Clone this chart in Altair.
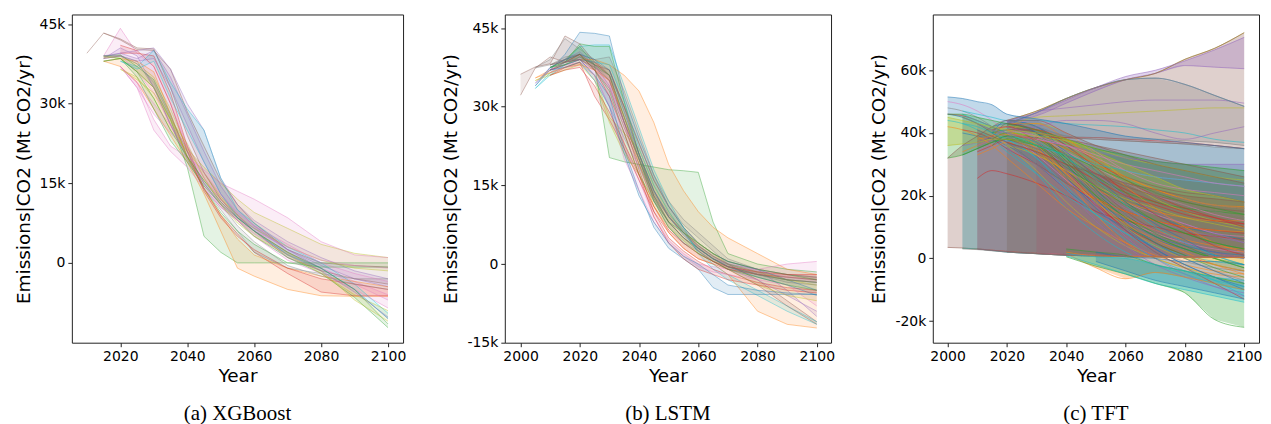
import altair as alt
import pandas as pd

TAB10 = ["#1f77b4", "#ff7f0e", "#2ca02c", "#d62728", "#9467bd",
         "#8c564b", "#e377c2", "#7f7f7f", "#bcbd22", "#17becf"]

# ---------------- Panel (a) XGBoost : values in k Mt CO2/yr ----------------
A_YEARS = [2010, 2015, 2020, 2025, 2030, 2035, 2040, 2045, 2050, 2055, 2060, 2070, 2080, 2090, 2100]
A_EDGE1 = [
    [39.5, 43.3, 42.0, 40.2, 40.0, 36.5, 28.5, 22.0, 15.5, 11.0, 7.5, 2.5, 0.0, -0.5, -0.8],
    [None, 39.0, 44.2, 39.5, 37.0, 30.0, 22.0, 16.0, 12.0, 9.0, 6.0, 2.0, -1.0, -3.5, -6.0],
    [None, 38.8, 39.5, 40.0, 40.5, 36.5, 30.0, 25.0, 16.0, 11.0, 8.0, 4.0, 1.0, -1.5, -3.0],
    [None, 39.0, 38.5, 36.0, 33.0, 27.0, 18.0, 5.0, 2.0, 0.0, 0.0, 0.0, 0.0, 0.0, 0.0],
    [None, 38.0, 37.0, 34.0, 29.0, 24.0, 19.0, 13.0, 6.0, -1.0, -2.5, -5.0, -6.2, -6.3, -6.3],
    [None, None, 39.5, 39.5, 39.0, 32.0, 22.0, 14.0, 9.0, 5.5, 2.0, -2.0, -5.5, -6.2, -6.2],
    [None, 38.8, 39.0, 37.5, 35.0, 29.0, 21.5, 18.0, 15.0, 12.0, 9.5, 6.5, 3.5, 1.8, 1.0],
    [None, None, 37.0, 34.0, 27.0, 22.0, 20.0, 17.5, 15.0, 13.5, 12.0, 8.5, 4.0, 1.5, 1.0],
    [None, 39.0, 39.5, 38.5, 40.0, 35.0, 28.0, 21.0, 14.5, 10.0, 7.0, 2.5, -1.0, -5.0, -10.5],
    [None, None, 38.0, 37.0, 40.0, 34.0, 29.0, 25.0, 16.0, 10.0, 7.5, 3.0, 0.0, -4.0, -9.5],
    [None, 38.5, 39.0, 38.0, 33.0, 26.0, 19.5, 14.0, 10.0, 6.0, 2.0, -1.0, -2.0, -3.0, -3.0],
    [None, 38.0, 38.5, 35.0, 29.0, 23.0, 19.0, 14.5, 11.0, 8.0, 5.0, 1.0, -2.0, -6.5, -12.2],
    [None, None, 37.0, 33.0, 28.0, 24.5, 21.0, 16.0, 11.5, 8.0, 5.5, 1.5, -1.0, -4.0, -7.0],
    [None, None, 36.5, 35.0, 31.0, 25.0, 21.0, 17.0, 12.5, 9.0, 6.0, 2.0, -1.5, -7.0, -11.0],
]
A_EDGE2 = [
    [None, 43.3, 42.2, 40.5, 40.3, 33.0, 24.0, 17.0, 12.0, 8.5, 6.0, 1.0, -1.5, -3.0, -4.0],
    [None, 38.5, 39.0, 36.0, 32.0, 26.0, 20.0, 14.0, 10.5, 8.0, 5.0, 0.5, -2.0, -5.0, -8.5],
    [None, 38.5, 40.5, 39.0, 33.0, 26.0, 20.0, 15.0, 11.0, 8.5, 6.5, 2.5, -0.5, -3.0, -4.5],
    [None, 39.0, 39.2, 37.0, 34.5, 28.0, 20.0, 14.0, 9.5, 6.0, 3.5, 0.0, -0.8, -0.8, -0.8],
    [None, 38.0, 38.5, 38.0, 36.0, 28.0, 20.0, 14.0, 9.0, 4.5, 1.5, -1.0, -2.5, -3.5, -4.5],
    [None, None, 41.0, 40.0, 37.0, 30.0, 21.0, 13.5, 8.5, 5.0, 2.5, -1.0, -3.0, -4.0, -5.0],
    [None, 38.8, 38.5, 36.0, 33.0, 27.0, 20.0, 15.5, 12.0, 9.0, 6.5, 3.0, 0.5, -1.0, -1.5],
    [None, None, 37.0, 33.0, 25.0, 21.0, 18.0, 14.0, 10.5, 8.0, 6.0, 3.0, 0.5, -0.5, -1.0],
    [None, 39.0, 39.0, 38.0, 38.5, 33.0, 26.0, 19.0, 13.0, 9.0, 6.0, 1.5, -1.5, -5.5, -10.2],
    [None, None, 38.0, 36.5, 38.0, 31.0, 25.0, 19.0, 13.0, 8.5, 6.0, 1.5, -1.0, -5.0, -10.5],
    [None, 38.5, 39.0, 37.5, 34.0, 27.5, 21.0, 15.0, 11.0, 7.0, 4.0, -0.5, -2.5, -4.0, -5.0],
    [None, 38.0, 38.5, 36.0, 31.0, 25.0, 20.0, 15.5, 11.5, 8.5, 6.0, 2.0, -1.0, -5.0, -11.5],
    [None, None, 37.0, 34.0, 30.0, 26.0, 22.0, 17.0, 13.0, 9.5, 7.0, 3.5, 0.0, -2.0, -3.5],
    [None, None, 36.5, 34.5, 32.0, 27.0, 22.5, 16.0, 11.0, 7.5, 5.0, 1.5, -2.0, -6.0, -9.0],
]
A_COLORS = [5, 6, 4, 2, 1, 3, 8, 6, 4, 9, 7, 2, 6, 8]

# ---------------- Panel (b) LSTM ----------------
B_YEARS = [2000, 2005, 2010, 2015, 2020, 2025, 2030, 2035, 2040, 2045, 2050, 2055, 2060, 2065, 2070, 2080, 2090, 2100]
B_EDGE1 = [
    [36.2, 37.6, 38.2, 43.5, 42.0, 38.5, 37.0, 30.0, 23.0, 16.0, 11.0, 7.0, 4.0, 2.0, 0.5, -1.0, -2.0, -2.5],
    [None, 34.0, 37.0, 40.0, 44.2, 44.0, 43.5, 32.0, 24.0, 17.0, 11.0, 7.0, 4.0, 2.0, 0.5, -1.0, -3.0, -5.0],
    [None, 33.5, 36.5, 38.5, 41.5, 41.8, 41.8, 34.0, 26.0, 18.0, 12.0, 7.0, 2.0, -1.0, -3.0, -6.0, -9.0, -11.5],
    [None, None, 37.5, 39.0, 41.5, 38.0, 20.3, 19.5, 19.0, 18.5, 18.0, 17.8, 17.5, 8.0, 2.0, 0.0, -1.0, -1.5],
    [None, 35.5, 37.0, 38.0, 39.0, 39.0, 38.0, 36.0, 33.0, 27.0, 19.0, 14.0, 10.0, 7.0, 5.0, 2.0, -1.0, -2.0],
    [None, None, 37.0, 38.0, 39.0, 38.5, 36.0, 27.0, 18.0, 10.0, 5.0, 2.5, 0.5, -1.0, -2.0, -3.5, -4.5, -5.0],
    [None, 34.5, 37.5, 39.0, 40.5, 38.0, 34.0, 27.0, 20.0, 13.0, 8.0, 5.0, 3.0, 1.0, 0.0, -1.0, -5.0, -10.0],
    [None, None, 36.5, 38.0, 38.5, 37.0, 35.0, 23.0, 16.0, 9.0, 4.5, 2.0, 0.0, -0.5, -1.0, -1.0, 0.0, 0.5],
    [None, None, 38.0, 39.5, 40.0, 39.0, 39.5, 33.0, 25.0, 17.0, 12.0, 8.5, 6.0, 3.5, 1.0, -1.0, -2.0, -2.5],
    [None, 35.0, 36.5, 37.5, 38.5, 36.0, 28.0, 25.0, 22.0, 15.0, 10.0, 6.0, 4.0, 2.0, 0.0, -1.5, -3.0, -4.0],
    [None, None, 37.0, 38.0, 39.0, 36.0, 32.0, 22.0, 14.0, 7.0, 3.0, 1.0, -1.0, -4.5, -5.8, -5.8, -5.8, -5.8],
    [None, None, 37.5, 38.5, 42.0, 41.5, 41.5, 31.0, 21.0, 13.0, 8.0, 5.0, 3.0, 1.0, -0.5, -2.0, -3.0, -3.5],
    [None, None, 36.0, 37.5, 38.5, 32.0, 27.5, 22.0, 16.0, 10.0, 6.0, 3.0, 1.0, 0.0, -1.0, -2.0, -2.5, -3.0],
    [None, None, 38.0, 39.0, 40.0, 38.0, 37.0, 30.0, 21.0, 14.0, 9.0, 6.0, 3.5, 1.5, 0.0, -3.0, -7.0, -11.0],
    [None, 37.5, 39.0, 43.0, 41.0, 39.0, 36.0, 28.0, 21.0, 14.0, 9.5, 6.5, 3.5, 1.5, 0.0, -1.5, -2.5, -3.0],
]
B_EDGE2 = [
    [32.2, 37.4, 39.5, 38.5, 39.0, 37.5, 35.0, 27.0, 20.0, 13.0, 9.0, 6.0, 3.0, 1.0, -0.5, -2.0, -3.0, -3.5],
    [None, 34.0, 37.5, 39.0, 40.0, 39.0, 37.0, 29.0, 21.0, 14.0, 9.0, 5.5, 3.0, 1.0, -0.5, -2.5, -4.0, -6.0],
    [None, 33.5, 36.0, 38.0, 39.0, 38.5, 38.0, 31.0, 22.0, 15.0, 10.0, 6.0, 2.5, 0.0, -2.0, -5.0, -8.0, -11.0],
    [None, None, 37.5, 38.5, 40.0, 37.0, 33.0, 25.0, 17.0, 12.0, 8.0, 6.0, 4.0, 2.0, 0.5, -1.0, -2.0, -3.0],
    [None, 35.5, 36.5, 37.5, 38.0, 37.0, 35.0, 28.0, 19.0, 11.0, 6.0, 3.0, 1.0, 0.0, -2.0, -9.0, -11.5, -12.2],
    [None, None, 37.0, 38.5, 40.0, 37.0, 32.0, 25.0, 17.0, 9.0, 4.0, 1.0, -1.0, -2.0, -3.0, -4.0, -5.0, -5.5],
    [None, 34.5, 37.0, 38.5, 39.0, 36.0, 30.0, 24.0, 18.5, 12.0, 7.0, 4.0, 2.5, 0.5, -1.0, -3.0, -6.0, -9.0],
    [None, None, 36.5, 37.5, 38.0, 36.0, 30.0, 20.0, 14.0, 8.0, 4.0, 1.5, -0.5, -1.5, -2.0, -3.0, -4.0, -8.0],
    [None, None, 38.0, 39.0, 39.0, 37.5, 36.0, 30.0, 23.0, 16.0, 11.0, 7.5, 5.0, 2.5, 0.0, -2.0, -3.5, -4.0],
    [None, 35.0, 36.0, 37.0, 38.0, 35.0, 27.0, 21.0, 17.0, 11.0, 7.0, 4.5, 2.0, 0.5, -1.0, -4.0, -6.0, -7.0],
    [None, None, 37.0, 37.5, 38.5, 35.0, 30.0, 21.0, 13.0, 8.0, 4.0, 1.5, 0.0, -2.0, -4.0, -5.0, -5.5, -5.8],
    [None, None, 37.5, 38.0, 39.5, 38.0, 36.0, 28.0, 20.0, 12.0, 7.0, 4.0, 2.0, 0.5, -1.0, -2.5, -4.0, -5.0],
    [None, None, 36.0, 37.0, 37.5, 34.0, 29.0, 23.0, 17.0, 11.0, 6.5, 4.0, 2.0, 0.5, -0.5, -1.5, -2.0, -2.0],
    [None, None, 38.0, 38.5, 39.0, 37.0, 33.5, 26.0, 19.0, 12.5, 8.0, 5.0, 2.5, 0.5, -1.0, -4.0, -8.0, -11.5],
    [None, 37.4, 38.0, 38.5, 39.5, 38.0, 35.0, 27.0, 20.0, 13.5, 9.0, 6.0, 3.0, 1.0, -0.5, -2.0, -3.0, -3.5],
]
B_COLORS = [5, 0, 9, 2, 1, 3, 4, 6, 7, 8, 0, 2, 3, 5, 7]

# ---------------- Panel (c) TFT ----------------
C_YEARS = [2000, 2005, 2010, 2015, 2020, 2030, 2040, 2050, 2060, 2070, 2080, 2090, 2100]
C_BAND_LO = [
    [3.5, 3.3, 3.0, 2.5, 2.0, 1.5, 1.0, 0.8, 0.6, 0.5, 0.4, 0.3, 0.3],
    [None, 3.2, 3.0, 2.5, 2.0, 1.5, 1.0, 0.8, 0.6, 0.5, 0.4, 0.3, 0.3],
    [None, None, 3.0, 2.6, 2.2, 1.6, 1.2, 1.0, 0.8, 0.6, 0.5, 0.4, 0.3],
    [None, None, None, None, 2.0, 1.5, 1.0, 0.8, 0.6, 0.5, 0.4, 0.3, 0.3],
    [None, None, None, None, None, 1.5, 1.0, 0.8, 0.6, 0.5, 0.4, 0.3, 0.3],
    [None, None, None, None, None, 1.6, 1.2, 1.0, 0.8, 0.6, 0.5, 0.4, 0.3],
    [None, None, None, None, 42.0, 40.0, 38.5, 38.0, 37.5, 37.0, 36.5, 36.0, 35.0],
    [None, None, None, None, 41.0, 40.0, 39.0, 38.5, 38.0, 38.0, 37.5, 37.0, 36.0],
    [None, None, None, None, 43.5, 45.5, 49.5, 53.5, 57.0, 59.0, 61.5, 61.0, 60.5],
    [None, None, None, None, None, None, 1.5, -3.0, -6.5, -4.5, -6.0, -8.0, -10.0],
    [None, None, None, None, None, None, 0.5, -2.5, -5.0, -8.0, -11.0, -19.5, -22.0],
    [None, None, None, None, None, None, 0.8, -2.0, -5.0, -8.0, -10.0, -12.0, -14.0],
    [46.0, 45.0, 43.0, 40.0, 37.0, 30.0, 24.0, 18.0, 12.0, 7.0, 4.0, 2.0, 1.0],
    [32.0, 33.0, 35.0, 37.0, 38.0, 36.0, 30.0, 24.0, 18.0, 12.0, 8.0, 5.0, 3.0],
    [36.0, 36.5, 37.0, 38.0, 38.0, 34.0, 26.0, 18.0, 10.0, 4.0, 0.0, -2.0, -4.0],
    [None, None, None, None, 2.0, 1.5, 1.0, 0.8, 0.6, 0.5, 0.4, 0.3, 0.3],
    [None, None, None, None, None, None, None, -1.0, -4.0, -7.0, -9.0, -11.0, -13.0],
    [None, 3.0, 2.8, 2.4, 2.0, 1.5, 1.0, 0.8, 0.6, 0.5, 0.4, 0.3, 0.3],
    [None, None, 3.0, 2.6, 2.2, 1.6, 1.2, 1.0, 0.8, 0.6, 0.5, 0.4, 0.3],
]
C_BAND_HI = [
    [32.0, 36.0, 39.0, 42.0, 44.0, 44.0, 40.0, 36.0, 33.0, 30.0, 28.0, 26.0, 24.0],
    [None, 46.0, 44.0, 42.0, 40.0, 36.0, 33.0, 30.0, 28.0, 26.0, 25.0, 24.0, 23.0],
    [None, None, 43.0, 41.0, 40.0, 38.0, 36.0, 34.0, 32.0, 31.0, 30.0, 30.0, 30.0],
    [None, None, None, None, 44.0, 42.0, 39.0, 38.0, 37.5, 37.0, 36.5, 35.5, 35.0],
    [None, None, None, None, None, 40.0, 38.0, 36.0, 34.0, 32.0, 30.0, 28.0, 26.0],
    [None, None, None, None, None, 38.0, 36.0, 33.0, 30.0, 28.0, 26.0, 24.0, 23.0],
    [None, None, None, None, 44.0, 47.0, 51.0, 54.5, 57.0, 59.0, 63.5, 67.0, 72.0],
    [None, None, None, None, 43.0, 46.5, 51.0, 54.5, 57.0, 57.5, 55.5, 52.0, 48.5],
    [None, None, None, None, 44.0, 46.5, 50.5, 54.5, 58.0, 60.0, 63.0, 66.5, 70.5],
    [None, None, None, None, None, None, 2.0, 0.8, 0.6, 0.5, 0.4, 0.3, 0.3],
    [None, None, None, None, None, None, 3.0, 2.0, 1.0, -2.0, -4.0, -6.0, -8.0],
    [None, None, None, None, None, None, 1.5, 0.5, 0.0, -2.0, -4.0, -6.0, -7.0],
    [51.5, 51.0, 50.0, 49.0, 46.0, 44.5, 43.0, 41.0, 39.0, 38.0, 37.0, 36.0, 35.0],
    [46.0, 46.0, 45.0, 44.0, 43.0, 41.0, 38.0, 35.0, 33.0, 31.0, 30.0, 29.0, 28.0],
    [45.0, 44.0, 43.0, 42.0, 41.0, 40.0, 38.0, 34.0, 30.0, 26.0, 22.0, 20.0, 18.0],
    [None, None, None, None, 40.0, 37.0, 33.0, 28.0, 24.0, 20.0, 17.0, 15.0, 13.0],
    [None, None, None, None, None, None, None, 2.0, 0.5, 0.0, -1.0, -1.0, -2.0],
    [None, 45.0, 43.0, 41.0, 39.0, 35.0, 31.0, 27.0, 24.0, 21.0, 19.0, 17.0, 16.0],
    [None, None, 41.0, 39.0, 37.0, 34.0, 30.0, 27.0, 24.0, 22.0, 20.0, 19.0, 18.0],
]
C_BAND_COLORS = [5, 9, 4, 7, 5, 6, 5, 7, 4, 1, 2, 9, 0, 2, 8, 7, 0, 7, 5]

C_LINES = [
    [46.0, 45.5, 44.0, 42.0, 40.0, 38.5, 38.5, 38.5, 38.0, 37.5, 37.0, 36.0, 35.0],
    [None, 40.0, 39.0, 38.0, 36.0, 30.0, 22.0, 15.0, 10.0, 6.0, 3.0, 1.0, 0.0],
    [None, None, 25.5, 28.0, 27.0, 24.0, 20.0, 15.0, 12.0, 10.0, 8.0, 7.0, 6.0],
    [None, 34.0, 36.0, 38.0, 40.0, 35.0, 25.0, 14.0, 5.0, 0.0, -3.0, -5.0, -6.0],
    [None, 33.0, 35.0, 37.0, 39.0, 36.0, 28.0, 20.0, 13.0, 7.0, 3.0, 0.0, -2.0],
    [None, None, 36.0, 38.0, 41.0, 38.0, 30.0, 22.0, 16.0, 12.0, 9.0, 7.0, 5.0],
    [None, None, 37.0, 39.0, 43.0, 40.0, 32.0, 23.0, 15.0, 9.0, 5.0, 2.0, 0.0],
    [50.0, 49.0, 47.0, 44.0, 40.0, 33.0, 25.0, 18.0, 12.0, 8.0, 5.0, 3.0, 2.0],
    [48.0, 47.0, 45.0, 42.0, 38.0, 30.0, 20.0, 12.0, 6.0, 2.0, -1.0, -3.0, -4.0],
    [None, 45.0, 43.0, 40.0, 36.0, 28.0, 18.0, 10.0, 4.0, 0.0, -3.0, -6.0, -8.0],
    [None, None, 40.0, 38.0, 35.0, 27.0, 16.0, 8.0, 2.0, -2.0, -5.0, -8.0, -10.0],
    [None, None, None, 40.0, 44.0, 42.0, 36.0, 28.0, 20.0, 14.0, 10.0, 8.0, 6.0],
    [None, None, None, 39.0, 42.0, 41.0, 38.0, 32.0, 26.0, 22.0, 19.0, 17.0, 16.0],
    [None, None, None, 38.0, 40.0, 38.0, 32.0, 26.0, 21.0, 18.0, 16.0, 15.0, 14.0],
    [None, None, 34.0, 36.0, 38.0, 34.0, 26.0, 17.0, 10.0, 5.0, 1.0, -2.0, -4.0],
    [None, 36.0, 37.0, 39.0, 41.0, 39.0, 34.0, 27.0, 20.0, 15.0, 11.0, 8.0, 5.0],
    [None, None, None, None, 42.0, 40.0, 35.0, 30.0, 26.0, 23.0, 21.0, 20.0, 18.0],
    [None, None, None, None, 40.0, 36.0, 30.0, 24.0, 18.0, 14.0, 11.0, 8.0, 7.0],
    [None, None, None, None, 38.0, 34.0, 26.0, 18.0, 10.0, 4.0, 0.0, -4.0, -7.0],
    [None, None, None, None, 41.0, 43.0, 40.0, 33.0, 25.0, 19.0, 15.0, 12.0, 10.0],
    [44.0, 43.0, 41.0, 38.0, 34.0, 27.0, 20.0, 14.0, 8.0, 4.0, 1.0, -1.0, -2.0],
    [42.0, 41.0, 39.0, 36.0, 32.0, 24.0, 16.0, 10.0, 5.0, 1.0, -2.0, -4.0, -5.0],
    [None, 41.0, 40.0, 38.0, 35.0, 30.0, 24.0, 19.0, 15.0, 12.0, 10.0, 9.0, 8.0],
    [None, None, 33.0, 35.0, 37.0, 33.0, 28.0, 22.0, 18.0, 15.0, 13.0, 12.0, 12.0],
    [None, None, None, 36.0, 39.0, 37.0, 30.0, 20.0, 11.0, 5.0, 1.0, -3.0, -6.0],
    [None, None, None, None, 44.0, 42.0, 33.0, 22.0, 12.0, 5.0, 0.0, -4.0, -8.0],
    [None, None, None, None, 43.0, 44.0, 40.0, 34.0, 28.0, 24.0, 22.0, 21.0, 20.0],
    [None, 47.0, 46.0, 45.0, 44.0, 44.0, 43.0, 42.5, 42.0, 41.0, 40.0, 38.0, 37.0],
    [None, None, None, None, None, 47.0, 48.0, 49.0, 50.0, 50.5, 50.5, 50.5, 49.5],
    [None, None, None, None, 42.0, 45.0, 45.5, 46.0, 46.5, 47.0, 47.5, 48.0, 48.0],
    [None, None, None, None, 40.0, 42.0, 44.0, 44.0, 43.0, 40.0, 38.0, 40.0, 42.0],
    [None, None, None, None, None, 40.0, 32.0, 22.0, 14.0, 8.0, 4.0, 0.0, -3.0],
    [None, None, None, None, None, 36.0, 26.0, 16.0, 9.0, 3.0, -2.0, -6.0, -9.0],
    [None, None, None, None, 35.0, 30.0, 22.0, 12.0, 4.0, -2.0, -6.0, -9.0, -11.0],
    [None, None, None, None, 38.0, 32.0, 22.0, 14.0, 8.0, 2.0, -3.0, -7.0, -12.0],
    [None, None, None, 41.0, 42.0, 37.0, 28.0, 18.0, 9.0, 2.0, -3.0, -8.0, -13.0],
    [None, None, None, None, 37.0, 30.0, 24.0, 19.0, 15.0, 12.0, 10.0, 9.0, 8.5],
    [None, 3.2, 3.0, 2.6, 2.2, 1.6, 1.2, 1.0, 0.8, 0.6, 0.5, 0.4, 0.3],
    [None, None, None, None, 39.0, 38.0, 33.0, 27.0, 22.0, 18.0, 15.0, 13.0, 11.0],
    [None, None, None, 40.0, 41.0, 39.0, 31.0, 21.0, 13.0, 7.0, 3.0, 0.0, -3.0],
    [None, None, 38.0, 39.0, 39.5, 35.0, 27.0, 19.0, 13.0, 9.0, 6.0, 4.0, 3.0],
    [None, None, None, None, 44.0, 40.0, 30.0, 19.0, 10.0, 3.0, -2.0, -6.0, -10.0],
    [None, None, None, None, 42.0, 39.0, 34.0, 29.0, 24.0, 20.0, 17.0, 14.0, 12.0],
    [None, None, None, None, 36.0, 33.0, 28.0, 23.0, 19.0, 16.0, 13.0, 11.0, 9.0],
    [None, None, None, None, 41.0, 41.0, 37.0, 31.0, 25.0, 20.0, 16.0, 13.0, 10.0],
    [None, 43.0, 42.0, 40.0, 38.0, 32.0, 23.0, 14.0, 6.0, 0.0, -4.0, -7.0, -9.0],
    [None, None, None, None, 40.0, 37.0, 29.0, 21.0, 14.0, 9.0, 5.0, 2.0, 0.0],
    [None, None, None, None, 43.0, 43.0, 38.0, 31.0, 23.0, 16.0, 10.0, 5.0, 2.0],
    [None, None, None, None, 38.0, 35.0, 31.0, 27.0, 23.0, 20.0, 18.0, 16.0, 15.0],
    [None, None, None, None, 39.0, 36.0, 29.0, 23.0, 17.0, 12.0, 8.0, 5.0, 3.0],
    [None, None, None, 42.0, 43.0, 40.0, 34.0, 26.0, 18.0, 11.0, 6.0, 1.0, -2.0],
    [None, None, None, None, 37.0, 34.0, 30.0, 25.0, 20.0, 17.0, 14.0, 12.0, 11.0],
    [None, None, None, None, 42.0, 38.0, 28.0, 17.0, 7.0, 0.0, -5.0, -9.0, -12.0],
    [None, None, None, None, 41.0, 39.0, 36.0, 32.0, 28.0, 26.0, 25.0, 24.0, 23.0],
    [None, None, None, None, 40.0, 38.0, 35.0, 30.0, 26.0, 22.0, 19.0, 17.0, 16.5],
    [None, None, None, None, 43.0, 41.0, 36.0, 29.0, 21.0, 14.0, 9.0, 4.0, 1.0],
    [None, None, None, None, 39.0, 37.0, 32.0, 25.0, 17.0, 10.0, 5.0, 1.0, -2.0],
    [None, None, None, None, 40.0, 39.0, 37.5, 35.0, 32.0, 30.0, 28.0, 26.0, 25.0],
    [None, None, None, None, 41.0, 36.0, 27.0, 18.0, 11.0, 6.0, 2.0, -2.0, -5.0],
    [None, None, None, None, 38.0, 36.0, 33.0, 29.0, 25.0, 21.0, 18.0, 16.0, 14.0],
    [None, None, None, None, 43.0, 46.5, 51.0, 54.5, 57.0, 57.5, 55.5, 52.0, 48.5],
    [None, None, None, None, 44.0, 47.0, 51.0, 54.5, 57.0, 59.0, 63.5, 67.0, 72.0],
]
C_LINE_COLORS = [3, 0, 3, 1, 2, 4, 5, 6, 7, 8, 9, 0, 1, 2, 3, 4, 5, 6, 7, 8,
                 9, 1, 3, 1, 2, 0, 6, 9, 4, 8, 4, 2, 0, 4, 9, 3, 1, 1,
                 3, 2, 1, 0, 6, 8, 3, 9, 4, 1, 5, 2, 0, 3, 4, 6, 1, 3, 9, 8, 1, 2,
                 0, 8]


def band_frame(years, e1s, e2s, cols, tag):
    rows = []
    for i, (e1, e2) in enumerate(zip(e1s, e2s)):
        for yr, v1, v2 in zip(years, e1, e2):
            if v1 is None or v2 is None:
                continue
            rows.append({"year": yr, "lo": v1, "hi": v2,
                         "sid": f"{tag}{i}", "col": TAB10[cols[i]]})
    return pd.DataFrame(rows)


def line_frame(years, series_list, cols, tag):
    rows = []
    for i, s in enumerate(series_list):
        for yr, v in zip(years, s):
            if v is None:
                continue
            rows.append({"year": yr, "v": v, "lid": f"{tag}{i}",
                         "col": TAB10[cols[i]]})
    return pd.DataFrame(rows)


YTITLE = "Emissions|CO2 (Mt CO2/yr)"
LABEL_EXPR = "datum.value == 0 ? '0' : datum.value + 'k'"


def panel(bands, lines, xdom, ydom, xticks, yticks, w, h, caption,
          band_op, line_op, interp):
    xenc = alt.X("year:Q", scale=alt.Scale(domain=xdom, nice=False, zero=False),
                 axis=alt.Axis(values=xticks, format="d", title="Year"))
    yscale = alt.Scale(domain=ydom, nice=False, zero=False)
    yaxis = alt.Axis(values=yticks, labelExpr=LABEL_EXPR, title=YTITLE)
    area = alt.Chart(bands).mark_area(opacity=band_op, strokeWidth=0, clip=True).encode(
        x=xenc,
        y=alt.Y("lo:Q", scale=yscale, axis=yaxis),
        y2="hi:Q",
        color=alt.Color("col:N", scale=None, legend=None),
        detail="sid:N",
    )
    ln = alt.Chart(lines).mark_line(opacity=line_op, strokeWidth=0.9, clip=True,
                                    interpolate=interp).encode(
        x=xenc,
        y=alt.Y("v:Q", scale=yscale, axis=yaxis),
        color=alt.Color("col:N", scale=None, legend=None),
        detail="lid:N",
    )
    return alt.layer(area, ln).properties(
        width=w, height=h,
        title=alt.TitleParams(caption, orient="bottom", anchor="middle",
                              frame="group", baseline="alphabetic", offset=35,
                              font="Liberation Serif", fontSize=21,
                              fontWeight="normal", color="black"),
    )


a_bands = band_frame(A_YEARS, A_EDGE1, A_EDGE2, A_COLORS, "a")
a_lines = pd.concat([line_frame(A_YEARS, A_EDGE1, A_COLORS, "a1_"),
                     line_frame(A_YEARS, A_EDGE2, A_COLORS, "a2_")])
pa = panel(a_bands, a_lines, [2005.5, 2104.5], [-15.04, 46.8],
           [2020, 2040, 2060, 2080, 2100], [0, 15, 30, 45], 332, 329,
           "(a) XGBoost", 0.13, 0.45, "linear")

b_bands = band_frame(B_YEARS, B_EDGE1, B_EDGE2, B_COLORS, "b")
b_lines = pd.concat([line_frame(B_YEARS, B_EDGE1, B_COLORS, "b1_"),
                     line_frame(B_YEARS, B_EDGE2, B_COLORS, "b2_")])
pb = panel(b_bands, b_lines, [1994.7, 2104.8], [-15.0, 47.6],
           [2000, 2020, 2040, 2060, 2080, 2100], [-15, 0, 15, 30, 45], 327, 329,
           "(b) LSTM", 0.13, 0.45, "linear")

c_bands = band_frame(C_YEARS, C_BAND_LO, C_BAND_HI, C_BAND_COLORS, "c")
c_lines = pd.concat([line_frame(C_YEARS, C_LINES, C_LINE_COLORS, "c_"),
                     line_frame(C_YEARS, C_BAND_LO, C_BAND_COLORS, "clo_"),
                     line_frame(C_YEARS, C_BAND_HI, C_BAND_COLORS, "chi_")])
pc = panel(c_bands, c_lines, [1995.0, 2105.0], [-26.9, 77.8],
           [2000, 2020, 2040, 2060, 2080, 2100], [-20, 0, 20, 40, 60], 327, 329,
           "(c) TFT", 0.28, 0.6, "monotone")

chart = alt.hconcat(
    pa, pb, pc, spacing=102, bounds="flush",
    padding={"left": 5, "top": 5, "right": 0, "bottom": 0},
).configure_view(
    stroke="#222222", strokeWidth=1
).configure_axis(
    grid=False, domain=False, tickColor="#222222", tickSize=4, tickWidth=1,
    labelFont="DejaVu Sans", labelFontSize=14, labelColor="black", labelPadding=3,
    titleFont="DejaVu Sans", titleFontSize=18.5, titleFontWeight="normal",
    titleColor="black",
).configure_axisY(titlePadding=6).configure_axisX(titlePadding=3)

chart.save("out.html", embed_options={"renderer": "svg", "actions": False})
